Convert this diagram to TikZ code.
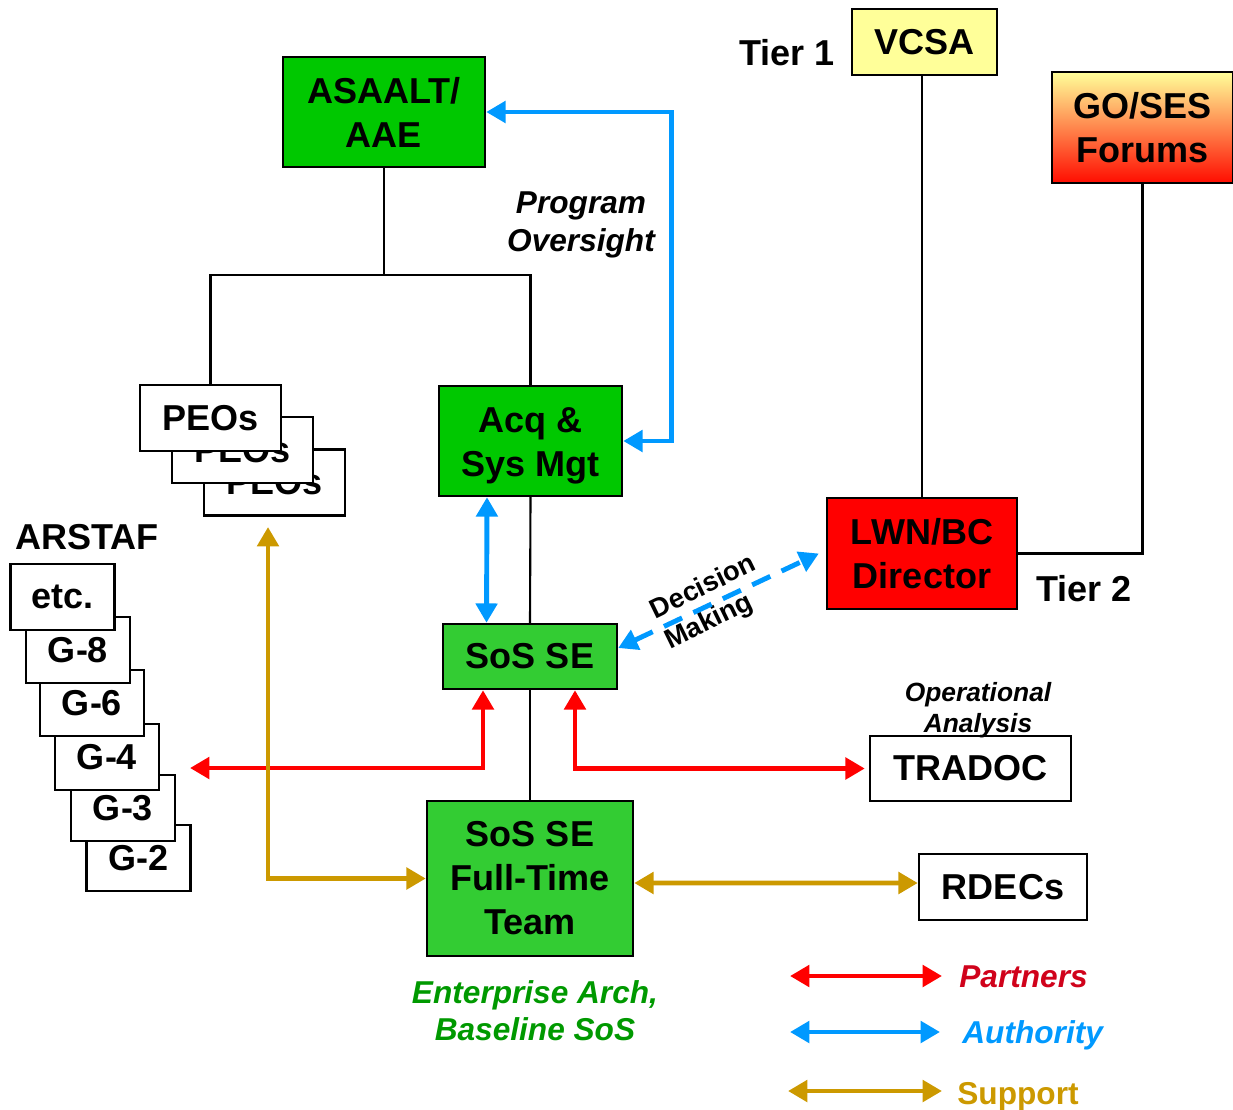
\documentclass[tikz,border=0pt]{standalone}
\usepackage{fontspec}
\setmainfont{Liberation Sans}
\usetikzlibrary{arrows.meta}

\definecolor{acqgreen}{HTML}{00C800}
\definecolor{sosgreen}{HTML}{33CC33}
\definecolor{paleyellow}{HTML}{FFFF99}
\definecolor{authblue}{HTML}{0099FF}
\definecolor{partred}{HTML}{FF0000}
\definecolor{suppgold}{HTML}{CC9900}
\definecolor{textgreen}{HTML}{009900}
\definecolor{textred}{HTML}{D0021B}

\tikzset{
  box/.style={draw=black, line width=1.4pt, align=center, inner sep=0pt,
    font=\fontsize{20.5}{25}\selectfont\bfseries},
  whitebox/.style={box, fill=white},
  peobox/.style={whitebox, minimum width=2.82cm, minimum height=1.32cm},
  staffbox/.style={whitebox, minimum width=2.08cm, minimum height=1.32cm},
  heading/.style={inner sep=0pt, font=\fontsize{20.5}{25}\selectfont\bfseries},
  note/.style={inner sep=0pt, align=center, font=\fontsize{18}{22}\selectfont\bfseries\itshape},
  tree/.style={draw=black, line width=1.2pt},
  link/.style={line width=2.8pt,
    {Triangle[length=11pt,width=12pt]}-{Triangle[length=11pt,width=12pt]}},
  partners/.style={link, draw=partred},
  authority/.style={link, draw=authblue},
  support/.style={link, draw=suppgold},
}

\begin{document}
\begin{tikzpicture}[x=0.02cm, y=-0.02cm]
  \useasboundingbox (0,0) rectangle (1233,1109);

  % acquisition side
  \node[box, fill=acqgreen, minimum width=4.04cm, minimum height=2.2cm] (asaalt) at (384,112) {ASAALT/\\AAE};
  \node[peobox] (peosc) at (274.5,482.5) {PEOs};
  \node[peobox] (peosb) at (242.5,450) {PEOs};
  \node[peobox] (peos) at (210.5,418) {PEOs};
  \node[box, fill=acqgreen, minimum width=3.66cm, minimum height=2.2cm] (acq) at (530.5,441) {\rule{0pt}{19.5pt}Acq \&\\Sys Mgt};
  \node[box, fill=sosgreen, minimum width=3.48cm, minimum height=1.3cm] (sos) at (530,656.5) {SoS SE};
  \node[box, fill=sosgreen, minimum width=4.12cm, minimum height=3.1cm] (team) at (530,878.5) {SoS SE\\Full-Time\\Team};

  % army staff
  \node[staffbox] (gtwo) at (138.5,858) {G-2};
  \node[staffbox] (gthree) at (123,808) {G-3};
  \node[staffbox] (gfour) at (107,757) {G-4};
  \node[staffbox] (gsix) at (92,703) {G-6};
  \node[staffbox] (geight) at (78,650) {G-8};
  \node[staffbox] (etc) at (62.5,597) {etc.};
  \node[heading] (arstaf) at (87,537) {ARSTAF};

  % tiers
  \node[box, fill=paleyellow, minimum width=2.9cm, minimum height=1.32cm] (vcsa) at (924.5,42) {VCSA};
  \node[box, top color=paleyellow, middle color=orange!50!yellow, bottom color=red!90!orange,
    minimum width=3.62cm, minimum height=2.22cm] (goses) at (1142.5,127.5) {GO/SES\\Forums};
  \node[box, fill=red, minimum width=3.8cm, minimum height=2.22cm] (lwn) at (922,553.5) {LWN/BC\\Director};
  \node[heading] (tierone) at (787,53) {Tier 1};
  \node[heading] (tiertwo) at (1084,589) {Tier 2};

  \node[whitebox, minimum width=4.02cm, minimum height=1.3cm] (tradoc) at (970.5,768.5) {TRADOC};
  \node[whitebox, minimum width=3.36cm, minimum height=1.32cm] (rdecs) at (1003,887) {RDECs};

  % labels
  \node[note] (oversight) at (581,225) {Program\\Oversight};
  \node[note, font=\fontsize{15}{17.6}\selectfont\bfseries\itshape] (opanalysis) at (978,710) {Operational\\Analysis};
  \node[inner sep=0pt, align=left, rotate=26, font=\fontsize{15.5}{19}\selectfont\bfseries] (decision) at (711,603) {Decision\\Making};
  \node[note, text=textgreen, font=\fontsize{18}{21}\selectfont\bfseries\itshape] (enterprise) at (535,1011) {Enterprise Arch,\\Baseline SoS};

  % tree lines
  \coordinate (split) at (384,275);
  \draw[tree] (asaalt) -- (split);
  \draw[tree] (peos.north) |- (split) -| (acq.north);
  \draw[tree] (acq.south) -- (sos.north);
  \draw[tree] (sos.south) -- (team.north);
  \draw[tree] (lwn.north |- vcsa.south) -- (lwn.north);
  \draw[tree] (goses.south) |- (lwn.east);

  % authority
  \draw[authority] (asaalt.east) -- ++(185,0) |- (acq.east);
  \draw[authority] ([xshift=-0.87cm]acq.south) -- ([xshift=-0.87cm]sos.north);
  \draw[authority, dash pattern=on 0.4cm off 0.25cm] ([yshift=0.17cm]sos.east) -- ([xshift=-0.14cm]lwn.west);

  % partners
  \coordinate (staffend) at (190,768);
  \draw[partners] ([xshift=-0.94cm]sos.south) |- (staffend);
  \draw[partners] ([xshift=0.9cm]sos.south) |- ([xshift=-0.08cm]tradoc.west);

  % support
  \coordinate (peostip) at (268,527);
  \draw[support] (peostip) |- (team.west);
  \draw[support] ([yshift=-0.09cm]team.east) -- ([yshift=0.08cm]rdecs.west);

  % legend
  \node[note, anchor=west, text=textred] (partlbl) at (959,977) {Partners};
  \node[note, anchor=west, text=authblue] (authlbl) at (962,1035) {Authority};
  \node[inner sep=0pt, anchor=west, text=suppgold, font=\fontsize{18}{22}\selectfont\bfseries] (supplbl) at (957,1097) {Support};
  \coordinate (partleft) at (790,976);
  \coordinate (authleft) at (790,1032);
  \coordinate (suppleft) at (788,1091);
  \draw[partners] (partleft) -- ([xshift=-0.34cm]partleft -| partlbl.west);
  \draw[authority] (authleft) -- ([xshift=-0.44cm]authleft -| authlbl.west);
  \draw[support] (suppleft) -- ([xshift=-0.3cm]suppleft -| supplbl.west);
\end{tikzpicture}
\end{document}
